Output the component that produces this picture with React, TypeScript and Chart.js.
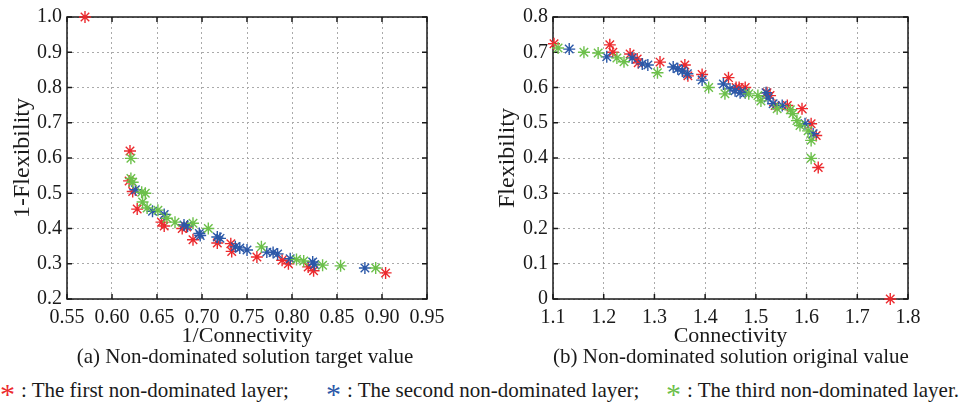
import React, { useEffect, useRef } from "react";
import { Chart, registerables } from "chart.js";

Chart.register(...registerables);

// ---------------- data ----------------
const RED = "#ec2a2e";
const BLUE = "#2b58a8";
const GREEN = "#6cc04a";

const seriesNames = [
  "The first non-dominated layer",
  "The second non-dominated layer",
  "The third non-dominated layer",
];

// (a) target values: [1/Connectivity, 1-Flexibility]
const leftFirst = [
  [0.570, 1.000], [0.620, 0.620], [0.619, 0.535], [0.623, 0.505], [0.628, 0.455],
  [0.655, 0.418], [0.658, 0.407], [0.678, 0.400], [0.683, 0.404], [0.690, 0.368],
  [0.717, 0.359], [0.732, 0.357], [0.733, 0.335], [0.761, 0.319], [0.789, 0.310],
  [0.796, 0.300], [0.818, 0.291], [0.824, 0.280], [0.904, 0.274],
];
const leftSecond = [
  [0.626, 0.510], [0.645, 0.449], [0.658, 0.440], [0.680, 0.410], [0.684, 0.407],
  [0.697, 0.386], [0.698, 0.380], [0.717, 0.376], [0.720, 0.372], [0.737, 0.348],
  [0.742, 0.345], [0.750, 0.339], [0.772, 0.333], [0.779, 0.332], [0.784, 0.328],
  [0.798, 0.314], [0.823, 0.305], [0.825, 0.298], [0.881, 0.288],
];
const leftThird = [
  [0.621, 0.599], [0.621, 0.542], [0.623, 0.531], [0.633, 0.503], [0.637, 0.500],
  [0.634, 0.475], [0.639, 0.458], [0.651, 0.452], [0.661, 0.429], [0.670, 0.418],
  [0.690, 0.415], [0.707, 0.400], [0.766, 0.348], [0.805, 0.312], [0.813, 0.308],
  [0.834, 0.296], [0.854, 0.294], [0.893, 0.288],
];

// (b) original values: [Connectivity, Flexibility]
const rightFirst = [
  [1.102, 0.724], [1.212, 0.721], [1.218, 0.700], [1.252, 0.695], [1.266, 0.681],
  [1.268, 0.670], [1.311, 0.672], [1.360, 0.664], [1.366, 0.633], [1.394, 0.637],
  [1.446, 0.628], [1.461, 0.600], [1.467, 0.600], [1.479, 0.600], [1.522, 0.585],
  [1.528, 0.577], [1.538, 0.549], [1.562, 0.549], [1.591, 0.540], [1.609, 0.497],
  [1.619, 0.464], [1.623, 0.373], [1.765, 0.000],
];
const rightSecond = [
  [1.132, 0.709], [1.206, 0.687], [1.256, 0.684], [1.276, 0.667], [1.287, 0.664],
  [1.337, 0.658], [1.346, 0.653], [1.355, 0.647], [1.365, 0.639], [1.394, 0.621],
  [1.436, 0.610], [1.449, 0.596], [1.459, 0.591], [1.469, 0.585], [1.479, 0.585],
  [1.520, 0.585], [1.524, 0.570], [1.534, 0.554], [1.552, 0.549], [1.597, 0.497],
  [1.613, 0.469],
];
const rightThird = [
  [1.110, 0.712], [1.161, 0.700], [1.189, 0.698], [1.226, 0.684], [1.240, 0.673],
  [1.306, 0.642], [1.407, 0.600], [1.439, 0.582], [1.486, 0.582], [1.504, 0.577],
  [1.510, 0.562], [1.542, 0.540], [1.568, 0.537], [1.573, 0.526], [1.581, 0.506],
  [1.587, 0.492], [1.603, 0.477], [1.609, 0.450], [1.609, 0.399],
];

const leftXTicks = [0.55, 0.6, 0.65, 0.7, 0.75, 0.8, 0.85, 0.9, 0.95];
const leftXLabels = ["0.55", "0.60", "0.65", "0.70", "0.75", "0.80", "0.85", "0.90", "0.95"];
const leftYTicks = [0.2, 0.3, 0.4, 0.5, 0.6, 0.7, 0.8, 0.9, 1.0];
const leftYLabels = ["0.2", "0.3", "0.4", "0.5", "0.6", "0.7", "0.8", "0.9", "1.0"];
const rightXTicks = [1.1, 1.2, 1.3, 1.4, 1.5, 1.6, 1.7, 1.8];
const rightXLabels = ["1.1", "1.2", "1.3", "1.4", "1.5", "1.6", "1.7", "1.8"];
const rightYTicks = [0, 0.1, 0.2, 0.3, 0.4, 0.5, 0.6, 0.7, 0.8];
const rightYLabels = ["0", "0.1", "0.2", "0.3", "0.4", "0.5", "0.6", "0.7", "0.8"];

// ---------------- helpers ----------------
const FONT = "'Liberation Serif', 'Times New Roman', serif";
const TEXT = "#1a1a1a";

const boxPlugin = {
  id: "matlabBox",
  beforeDatasetsDraw(chart: any) {
    const { ctx, chartArea } = chart;
    const { left, top, right, bottom } = chartArea;
    const xs = chart.scales.x;
    const ys = chart.scales.y;
    ctx.save();
    ctx.strokeStyle = "#1a1a1a";
    ctx.lineWidth = 1.5;
    ctx.setLineDash([]);
    ctx.strokeRect(left, top, right - left, bottom - top);
    const tl = 5;
    ctx.beginPath();
    xs.ticks.forEach((t: any) => {
      const px = xs.getPixelForValue(t.value);
      ctx.moveTo(px, bottom);
      ctx.lineTo(px, bottom - tl);
      ctx.moveTo(px, top);
      ctx.lineTo(px, top + tl);
    });
    ys.ticks.forEach((t: any) => {
      const py = ys.getPixelForValue(t.value);
      ctx.moveTo(left, py);
      ctx.lineTo(left + tl, py);
      ctx.moveTo(right, py);
      ctx.lineTo(right - tl, py);
    });
    ctx.stroke();
    ctx.restore();
  },
};

function makeDataset(label: string, pts: number[][], color: string, order: number) {
  return {
    label,
    data: pts.map((p) => ({ x: p[0], y: p[1] })),
    pointStyle: "star",
    pointRadius: 6,
    pointHoverRadius: 6,
    borderWidth: 1.4,
    borderColor: color,
    backgroundColor: color,
    showLine: false,
    clip: false,
    order,
  };
}

interface PanelProps {
  left: number;
  width: number;
  height: number;
  yAxisWidth: number;
  padRight: number;
  sets: number[][][];
  xTicks: number[];
  xLabels: string[];
  yTicks: number[];
  yLabels: string[];
  xTitle: string;
  yTitle: string;
  yTitlePad: number;
}

function Panel(p: PanelProps) {
  const ref = useRef<HTMLCanvasElement | null>(null);
  useEffect(() => {
    if (!ref.current) return;
    const gridOpts = { color: "#aaaaaa", lineWidth: 1, drawTicks: false };
    const borderOpts = { display: false, dash: [2, 3] };
    const chart = new Chart(ref.current, {
      type: "scatter",
      data: {
        datasets: [
          makeDataset(seriesNames[0], p.sets[0], RED, 3),
          makeDataset(seriesNames[1], p.sets[1], BLUE, 2),
          makeDataset(seriesNames[2], p.sets[2], GREEN, 1),
        ],
      },
      options: {
        animation: false,
        responsive: false,
        devicePixelRatio: 1,
        layout: { padding: { left: 0, top: 16, right: p.padRight, bottom: 0 } },
        plugins: { legend: { display: false }, tooltip: { enabled: false } },
        scales: {
          x: {
            type: "linear",
            min: p.xTicks[0],
            max: p.xTicks[p.xTicks.length - 1],
            afterBuildTicks: (s: any) => {
              s.ticks = p.xTicks.map((v) => ({ value: v }));
            },
            afterFit: (s: any) => {
              s.height = 50;
            },
            ticks: {
              autoSkip: false,
              maxRotation: 0,
              padding: 7,
              color: TEXT,
              font: { family: FONT, size: 20 },
              callback: (_v: any, i: number) => p.xLabels[i],
            },
            grid: gridOpts,
            border: borderOpts,
            title: {
              display: true,
              text: p.xTitle,
              color: TEXT,
              font: { family: FONT, size: 22 },
              padding: { top: 0, bottom: 0 },
            },
          },
          y: {
            type: "linear",
            min: p.yTicks[0],
            max: p.yTicks[p.yTicks.length - 1],
            afterBuildTicks: (s: any) => {
              s.ticks = p.yTicks.map((v) => ({ value: v }));
            },
            afterFit: (s: any) => {
              s.width = p.yAxisWidth;
            },
            ticks: {
              autoSkip: false,
              padding: 5,
              color: TEXT,
              font: { family: FONT, size: 20 },
              callback: (_v: any, i: number) => p.yLabels[i],
            },
            grid: gridOpts,
            border: borderOpts,
            title: {
              display: true,
              text: p.yTitle,
              color: TEXT,
              font: { family: FONT, size: 24 },
              padding: { top: p.yTitlePad, bottom: 0 },
            },
          },
        },
      },
      plugins: [boxPlugin],
    } as any);
    return () => chart.destroy();
  }, []);
  return (
    <canvas
      ref={ref}
      width={p.width}
      height={p.height}
      style={{ position: "absolute", left: p.left, top: 0, width: p.width, height: p.height }}
    />
  );
}

const captionStyle: React.CSSProperties = {
  position: "absolute",
  width: 500,
  textAlign: "center",
  fontFamily: FONT,
  fontSize: 21,
  lineHeight: "24px",
  color: TEXT,
  whiteSpace: "nowrap",
};

const legendStyle: React.CSSProperties = {
  position: "absolute",
  top: 375,
  fontFamily: FONT,
  fontSize: 21,
  lineHeight: "24px",
  color: TEXT,
  whiteSpace: "nowrap",
};

function Star({ color }: { color: string }) {
  return (
    <span style={{ color, fontSize: 30, position: "relative", top: 7, marginRight: 6 }}>*</span>
  );
}

export default function App() {
  return (
    <div style={{ position: "absolute", left: 0, top: 0, width: 971, height: 409, background: "#fff", overflow: "hidden" }}>
      <Panel
        left={0}
        width={480}
        height={349}
        yAxisWidth={67}
        padRight={53}
        sets={[leftFirst, leftSecond, leftThird]}
        xTicks={leftXTicks}
        xLabels={leftXLabels}
        yTicks={leftYTicks}
        yLabels={leftYLabels}
        xTitle="1/Connectivity"
        yTitle="1-Flexibility"
        yTitlePad={8}
      />
      <Panel
        left={480}
        width={491}
        height={349}
        yAxisWidth={73}
        padRight={63}
        sets={[rightFirst, rightSecond, rightThird]}
        xTicks={rightXTicks}
        xLabels={rightXLabels}
        yTicks={rightYTicks}
        yLabels={rightYLabels}
        xTitle="Connectivity"
        yTitle="Flexibility"
        yTitlePad={13}
      />
      <div style={{ ...captionStyle, left: 245 - 250, top: 344 }}>(a) Non-dominated solution target value</div>
      <div style={{ ...captionStyle, left: 731 - 250, top: 344 }}>(b) Non-dominated solution original value</div>
      <div style={{ ...legendStyle, left: 0 }}>
        <Star color={RED} />: The first non-dominated layer;
      </div>
      <div style={{ ...legendStyle, left: 326 }}>
        <Star color={BLUE} />: The second non-dominated layer;
      </div>
      <div style={{ ...legendStyle, left: 666 }}>
        <Star color={GREEN} />: The third non-dominated layer.
      </div>
    </div>
  );
}
